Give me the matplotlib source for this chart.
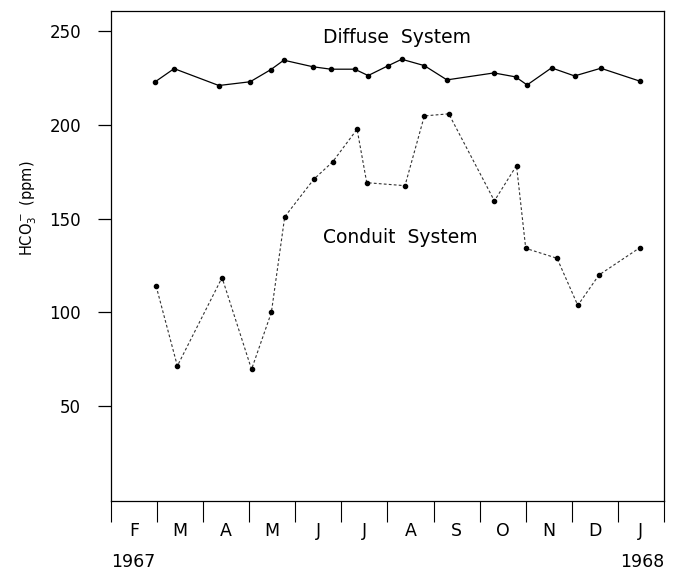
import matplotlib
matplotlib.use("Agg")
import matplotlib.pyplot as plt
from matplotlib.ticker import FixedLocator, NullFormatter

# --- data (x = months since 1 Feb 1967) ---
diffuse_x = [0.96, 1.37, 2.34, 3.02, 3.47, 3.75, 4.38, 4.77, 5.29, 5.58, 6.01,
             6.31, 6.80, 7.29, 8.31, 8.78, 9.03, 9.56, 10.06, 10.63, 11.48]
diffuse_y = [223, 230, 221, 223, 229.5, 234.5, 231, 229.7, 229.7, 226.3, 231.5,
             235, 231.6, 224, 227.7, 225.6, 221.3, 230.4, 226.1, 230.2, 223.3]

conduit_x = [0.98, 1.44, 2.41, 3.05, 3.48, 3.77, 4.40, 4.81, 5.34, 5.55,
             6.38, 6.80, 7.33, 8.32, 8.80, 9.00, 9.68, 10.13, 10.59, 11.48]
conduit_y = [114, 71.5, 118.6, 69.7, 100, 151, 171, 180.3, 197.7, 169.2,
             167.6, 204.8, 205.9, 159.5, 178.3, 134.2, 128.9, 103.8, 120, 134.6]

months = ["F", "M", "A", "M", "J", "J", "A", "S", "O", "N", "D", "J"]
y_ticks = [50, 100, 150, 200, 250]

fig = plt.figure(figsize=(6.76, 5.72), dpi=100)
ax = fig.add_axes([0.1642, 0.1241, 0.818, 0.8566])

ax.plot(diffuse_x, diffuse_y, color="black", lw=0.9, marker="o", ms=3)
ax.plot(conduit_x, conduit_y, color="#333333", lw=0.8, ls=(0, (2.5, 2)),
        marker="o", ms=3, mfc="black", mec="black")

ax.text(4.60, 246.5, "Diffuse  System", fontsize=13.5, va="center", ha="left")
ax.text(4.60, 140, "Conduit  System", fontsize=13.5, va="center", ha="left")

ax.set_xlim(0, 12)
ax.set_ylim(-0.5, 260.7)

# y axis
ax.set_yticks(y_ticks)
ax.tick_params(axis="y", direction="out", length=9.5, width=0.9, pad=12,
               labelsize=12)
ax.set_ylabel(r"HCO$_3^-$ (ppm)", fontsize=10.5)
ax.yaxis.set_label_coords(-0.13, 0.598)

# x axis: separators at month boundaries, labels centred in months
ax.xaxis.set_major_locator(FixedLocator(range(13)))
ax.xaxis.set_major_formatter(NullFormatter())
ax.xaxis.set_minor_locator(FixedLocator([i + 0.5 for i in range(12)]))
ax.set_xticklabels(months, minor=True)
ax.tick_params(axis="x", which="major", direction="out", length=15, width=0.8)
ax.tick_params(axis="x", which="minor", length=0, pad=15, labelsize=12.5)

ax.text(0, -0.125, "1967", transform=ax.transAxes, ha="left", va="center",
        fontsize=12.5)
ax.text(1, -0.125, "1968", transform=ax.transAxes, ha="right", va="center",
        fontsize=12.5)

for s in ax.spines.values():
    s.set_linewidth(0.9)

fig.savefig("out.png", dpi=100)
